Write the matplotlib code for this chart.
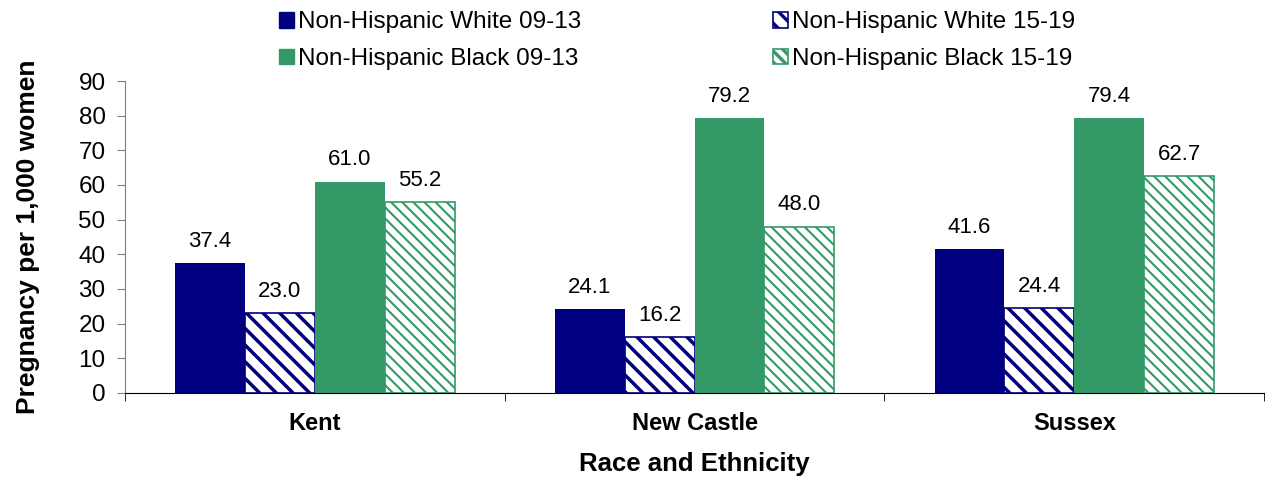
import numpy as np
import matplotlib.pyplot as plt
from matplotlib.patches import Patch

plt.rcParams['font.family'] = ['Liberation Sans', 'DejaVu Sans']
plt.rcParams['hatch.linewidth'] = 2.4

counties = ['Kent', 'New Castle', 'Sussex']
series = ['Non-Hispanic White 09-13', 'Non-Hispanic White 15-19',
          'Non-Hispanic Black 09-13', 'Non-Hispanic Black 15-19']
white_0913 = [37.4, 24.1, 41.6]
white_1519 = [23.0, 16.2, 24.4]
black_0913 = [61.0, 79.2, 79.4]
black_1519 = [55.2, 48.0, 62.7]

navy = '#000080'
green = '#339966'
# (colour, hatch, hatch line width)
styles = [(navy, None, 0), (navy, '\\\\', 2.5), (green, None, 0), (green, '\\\\\\', 1.5)]
values = [white_0913, white_1519, black_0913, black_1519]

fig = plt.figure(figsize=(12.67, 4.78), dpi=100)
ax = fig.add_axes([0.0987, 0.178, 0.899, 0.6525])

x = np.arange(len(counties))
w = 0.184
handles = []
for i, (vals, (col, hatch, hlw)) in enumerate(zip(values, styles)):
    pos = x + (i - 1.5) * w
    if hatch:
        bars = ax.bar(pos, vals, w, facecolor='white', edgecolor=col, hatch=hatch, linewidth=0)
        for b in bars:
            if hasattr(b, 'set_hatch_linewidth'):
                b.set_hatch_linewidth(hlw)
        ax.bar(pos, vals, w, facecolor='none', edgecolor=col, linewidth=1.2)
        h = Patch(facecolor='white', edgecolor=col, hatch=hatch, linewidth=1.2, label=series[i])
        if hasattr(h, 'set_hatch_linewidth'):
            h.set_hatch_linewidth(hlw)
    else:
        bars = ax.bar(pos, vals, w, color=col, linewidth=0)
        h = Patch(facecolor=col, edgecolor=col, label=series[i])
    handles.append(h)
    for b, v in zip(bars, vals):
        ax.annotate(f'{v:.1f}', (b.get_x() + b.get_width() / 2, v), xytext=(0, 8),
                    textcoords='offset points', ha='center', va='bottom', fontsize=16)

ax.set_xlim(-0.5, 2.5)
ax.set_ylim(0, 90)
ax.set_yticks(np.arange(0, 91, 10))
ax.tick_params(axis='y', labelsize=17.5, length=6, color='#808080', direction='out', pad=8)
ax.set_xticks(x)
ax.set_xticklabels(counties, fontsize=17, fontweight='bold')
ax.tick_params(axis='x', length=0, pad=14)
ax.set_xticks([-0.5, 0.5, 1.5, 2.5], minor=True)
ax.tick_params(axis='x', which='minor', length=6, color='black')
for s in ['top', 'right']:
    ax.spines[s].set_visible(False)
ax.spines['left'].set_color('#808080')
ax.spines['bottom'].set_color('black')

ax.set_ylabel('Pregnancy per 1,000 women', fontsize=19, fontweight='bold')
ax.yaxis.set_label_coords(-0.075, 0.5)
ax.set_xlabel('Race and Ethnicity', fontsize=18.5, fontweight='bold', labelpad=12)

order = [0, 2, 1, 3]
fig.legend([handles[i] for i in order], [series[i] for i in order], ncol=2,
           loc='upper left', bbox_to_anchor=(0.203, 1.022), frameon=False, fontsize=17.5,
           handlelength=0.62, handleheight=0.62, handletextpad=0.15,
           columnspacing=7.9, labelspacing=0.6)

fig.savefig('out.png', dpi=100)
